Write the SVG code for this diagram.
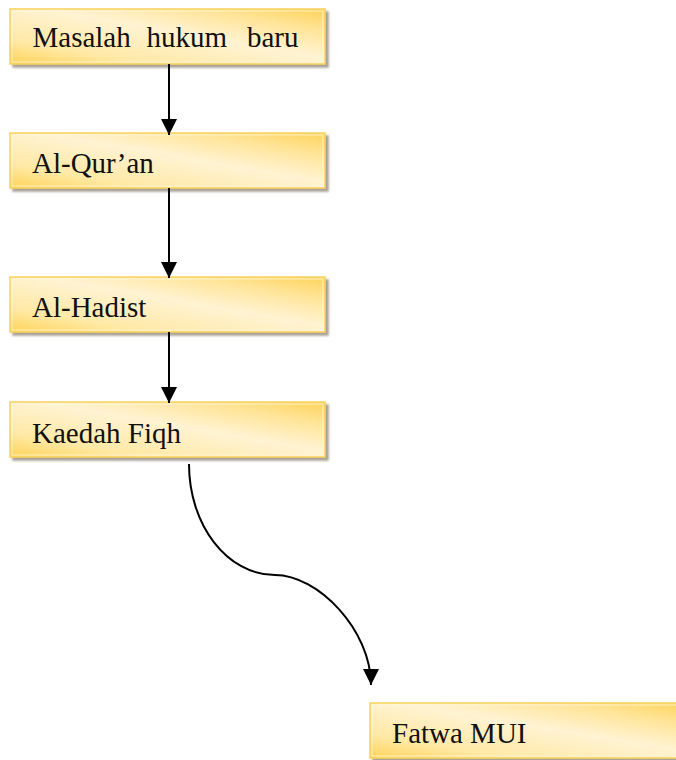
<svg xmlns="http://www.w3.org/2000/svg" width="676" height="760" viewBox="0 0 676 760">
  <style>
    .box { fill: url(#gold); stroke: #F8D25E; stroke-width: 1.5; filter: url(#shadow); }
    .inner { fill: none; stroke: #FFF6DC; stroke-width: 1; opacity: 0.8; }
    .label { font-family: "Liberation Serif", "Times New Roman", serif; font-size: 29px; fill: #111; }
    .link { fill: none; stroke: #000; stroke-width: 2; marker-end: url(#arrow); }
  </style>
  <defs>
    <linearGradient id="gold" x1="0" y1="1" x2="1" y2="0">
      <stop offset="0" stop-color="#FFD358"/>
      <stop offset="0.22" stop-color="#FFE9A6"/>
      <stop offset="0.55" stop-color="#FFF3D3"/>
      <stop offset="0.8" stop-color="#FFE497"/>
      <stop offset="1" stop-color="#FFD358"/>
    </linearGradient>
    <filter id="shadow" x="-5%" y="-20%" width="115%" height="150%">
      <feDropShadow dx="3" dy="3" stdDeviation="1.3" flood-color="#8a8070" flood-opacity="0.75"/>
    </filter>
    <marker id="arrow" markerUnits="userSpaceOnUse" markerWidth="16" markerHeight="16" viewBox="0 0 14 14" refX="14" refY="7" orient="auto">
      <path d="M0,0 L14,7 L0,14 Z" fill="#000"/>
    </marker>
  </defs>

  <g id="n1">
    <rect class="box" x="10" y="9" width="315" height="55"/>
    <rect class="inner" x="12" y="11" width="311" height="51"/>
    <text class="label" y="47"><tspan x="32.5">Masalah</tspan><tspan x="146.5">hukum</tspan><tspan x="247">baru</tspan></text>
  </g>
  <g id="n2">
    <rect class="box" x="10" y="133" width="315" height="55"/>
    <rect class="inner" x="12" y="135" width="311" height="51"/>
    <text class="label" x="32" y="173">Al-Qur’an</text>
  </g>
  <g id="n3">
    <rect class="box" x="10" y="277" width="315" height="55"/>
    <rect class="inner" x="12" y="279" width="311" height="51"/>
    <text class="label" x="32" y="317">Al-Hadist</text>
  </g>
  <g id="n4">
    <rect class="box" x="10" y="402" width="315" height="55"/>
    <rect class="inner" x="12" y="404" width="311" height="51"/>
    <text class="label" x="32" y="442.5">Kaedah Fiqh</text>
  </g>
  <g id="n5">
    <rect class="box" x="370" y="703" width="320" height="55"/>
    <rect class="inner" x="372" y="705" width="316" height="51"/>
    <text class="label" x="392" y="742.5">Fatwa MUI</text>
  </g>

  <g id="connectors">
    <path class="link" d="M169,64 L169,135"/>
    <path class="link" d="M169,188 L169,278"/>
    <path class="link" d="M169,332 L169,403"/>
    <path class="link" d="M189,464 C189,525 227,575 275,575 C318,575 371,630 371,685"/>
  </g>
</svg>
